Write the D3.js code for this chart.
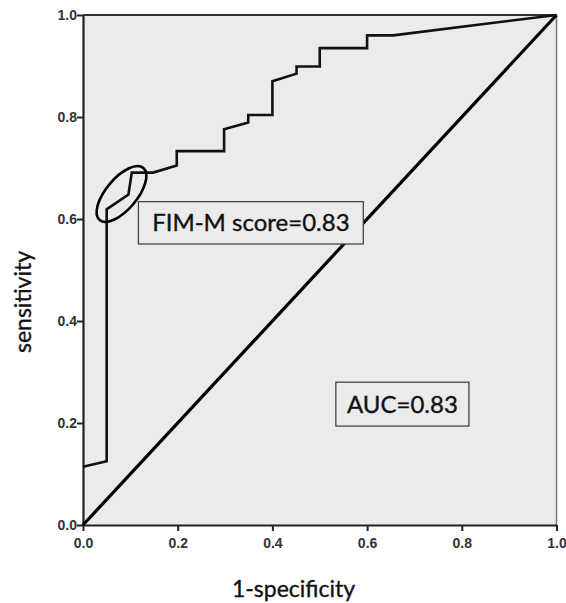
<!DOCTYPE html>
<html>
<head>
<meta charset="utf-8">
<script src="https://cdnjs.cloudflare.com/ajax/libs/d3/7.8.5/d3.min.js"></script>
<style>
  body { margin: 0; background: #fff; }
  svg { display: block; }
</style>
</head>
<body>
<svg id="chart" width="566" height="603"></svg>
<script>
// ROC curve points
var fpr = [0, 0.05, 0.05, 0.096, 0.103, 0.148, 0.198, 0.198, 0.298, 0.298, 0.349, 0.349, 0.40, 0.40, 0.451, 0.451, 0.50, 0.50, 0.60, 0.60, 0.655, 1.0];
var tpr = [0.114, 0.125, 0.619, 0.648, 0.691, 0.691, 0.705, 0.733, 0.733, 0.776, 0.789, 0.804, 0.804, 0.87, 0.885, 0.899, 0.899, 0.935, 0.935, 0.96, 0.96, 1.0];
var refLine = [0, 1];
var xTicks = [0, 0.2, 0.4, 0.6, 0.8, 1.0];
var yTicks = [0, 0.2, 0.4, 0.6, 0.8, 1.0];
var labels = ["FIM-M score=0.83", "AUC=0.83"];
// label boxes in data units: [x0, x1, y0, y1]
var labelBoxes = [[0.117, 0.592, 0.551, 0.634], [0.534, 0.815, 0.194, 0.28]];

var svg = d3.select("#chart");
var margin = {left: 83, top: 15, right: 9.5, bottom: 78};
var width = 566 - margin.left - margin.right,
    height = 603 - margin.top - margin.bottom;

var x = d3.scaleLinear().domain([0, 1]).range([0, width]);
var y = d3.scaleLinear().domain([0, 1]).range([height, 0]);

var g = svg.append("g").attr("transform", "translate(" + margin.left + "," + margin.top + ")");

g.append("rect")
  .attr("width", width).attr("height", height)
  .attr("fill", "#ebebeb");

// frame: dark top, light right
g.append("line").attr("x1", 0).attr("x2", width).attr("y1", 0).attr("y2", 0)
  .attr("stroke", "#333").attr("stroke-width", 2);
g.append("line").attr("x1", width).attr("x2", width).attr("y1", 0).attr("y2", height)
  .attr("stroke", "#777").attr("stroke-width", 1.5);

var xAxis = g.append("g").attr("transform", "translate(0," + height + ")")
  .call(d3.axisBottom(x).tickValues(xTicks).tickFormat(d3.format(".1f")).tickSize(6).tickSizeOuter(0));
var yAxis = g.append("g")
  .call(d3.axisLeft(y).tickValues(yTicks).tickFormat(d3.format(".1f")).tickSize(6).tickSizeOuter(0));

[xAxis, yAxis].forEach(function(a) {
  a.select(".domain").attr("stroke", "#222").attr("stroke-width", 2.2);
  a.selectAll(".tick line").attr("stroke", "#222").attr("stroke-width", 2);
  a.selectAll(".tick text")
    .attr("font-family", "Liberation Sans, Arial, sans-serif")
    .attr("font-weight", "bold")
    .attr("font-size", 14)
    .attr("fill", "#333");
});
xAxis.selectAll(".tick text").attr("dy", "1.0em");
yAxis.selectAll(".tick text").attr("x", -6);

// reference diagonal
g.append("line")
  .attr("x1", x(refLine[0])).attr("y1", y(refLine[0]))
  .attr("x2", x(refLine[1])).attr("y2", y(refLine[1]))
  .attr("stroke", "#000").attr("stroke-width", 3.2);

var rocData = fpr.map(function(d, i) { return [d, tpr[i]]; });
var line = d3.line().x(function(d) { return x(d[0]); }).y(function(d) { return y(d[1]); });
g.append("path")
  .datum(rocData)
  .attr("d", line)
  .attr("fill", "none")
  .attr("stroke", "#111")
  .attr("stroke-width", 2.6)
  .attr("stroke-linejoin", "miter");

// highlight ellipse around the cut-off point
g.append("ellipse")
  .attr("transform", "translate(" + x(0.0813) + "," + y(0.649) + ") rotate(-50)")
  .attr("rx", 34).attr("ry", 15.5)
  .attr("fill", "none")
  .attr("stroke", "#000")
  .attr("stroke-width", 2.6);

// annotation boxes
labelBoxes.forEach(function(b, i) {
  var bx = x(b[0]), by = y(b[3]), bw = x(b[1]) - x(b[0]), bh = y(b[2]) - y(b[3]);
  g.append("rect")
    .attr("x", bx).attr("y", by).attr("width", bw).attr("height", bh)
    .attr("fill", "#ebebeb").attr("stroke", "#444").attr("stroke-width", 1.3);
  g.append("text")
    .attr("x", bx + bw / 2).attr("y", by + bh / 2 + 8.6)
    .attr("text-anchor", "middle")
    .attr("font-family", "Lato, Carlito, sans-serif")
    .attr("font-size", 24)
    .attr("fill", "#111")
    .attr("stroke", "#111").attr("stroke-width", 0.35)
    .text(labels[i]);
});

// axis titles
svg.append("text")
  .attr("transform", "translate(31,302) rotate(-90)")
  .attr("text-anchor", "middle")
  .attr("font-family", "Lato, Carlito, sans-serif")
  .attr("font-size", 23)
  .attr("fill", "#111")
  .attr("stroke", "#111").attr("stroke-width", 0.35)
  .text("sensitivity");

svg.append("text")
  .attr("x", 293.5).attr("y", 596.5)
  .attr("text-anchor", "middle")
  .attr("font-family", "Lato, Carlito, sans-serif")
  .attr("font-size", 23)
  .attr("fill", "#111")
  .attr("stroke", "#111").attr("stroke-width", 0.35)
  .text("1-specificity");
</script>
</body>
</html>
